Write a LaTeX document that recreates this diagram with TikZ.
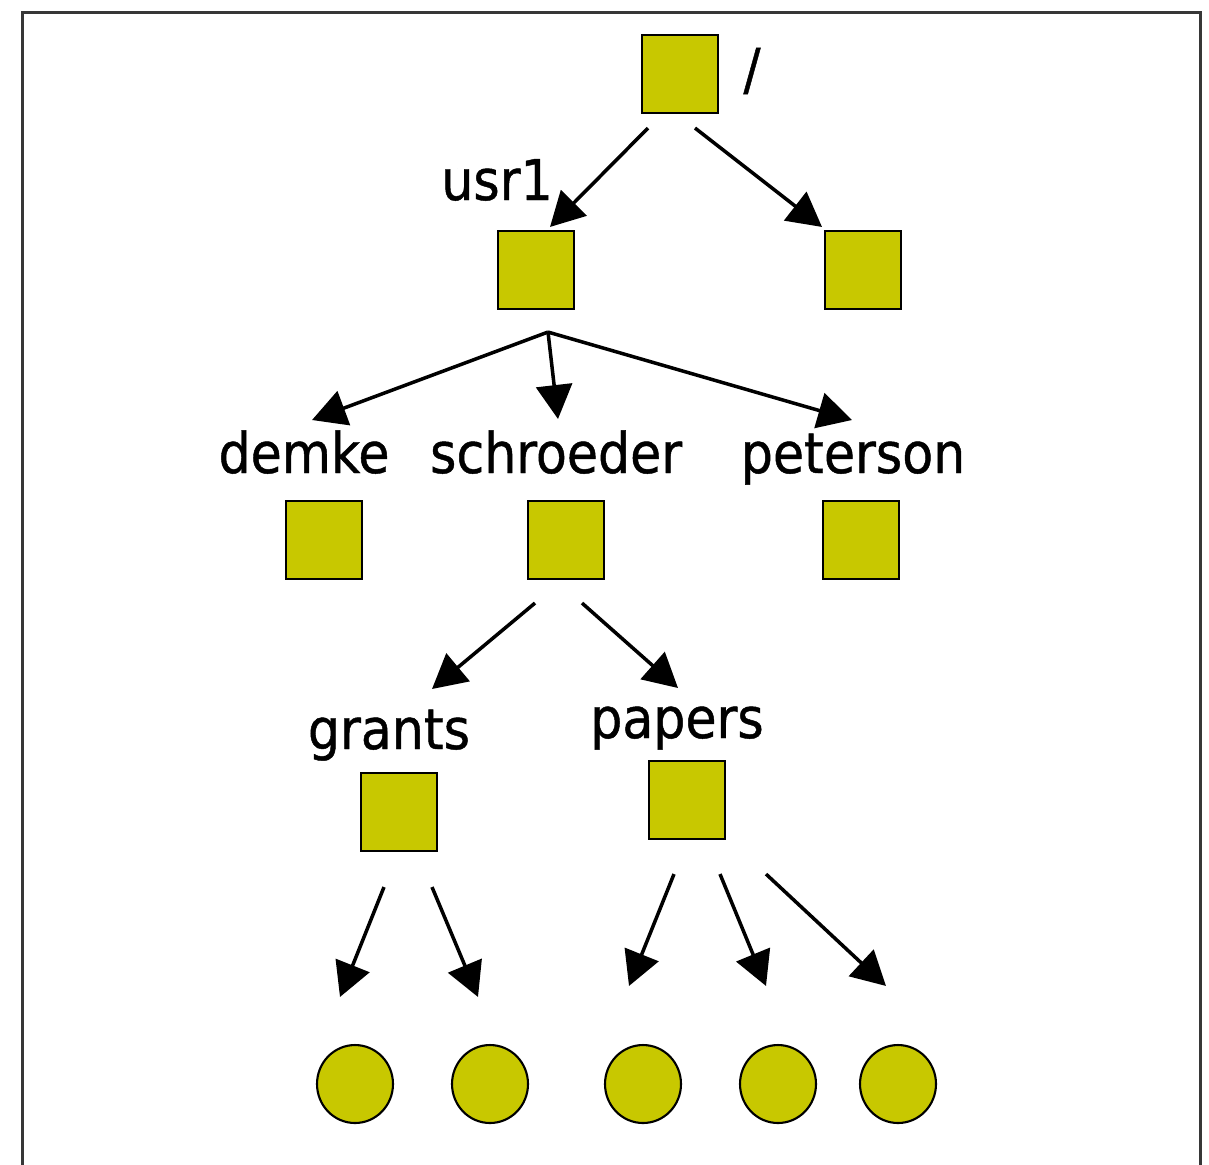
\documentclass[tikz,border=0pt]{standalone}
\usepackage{fontspec}
\setmainfont{DejaVu Sans Condensed}[FakeBold=0.8]
\usetikzlibrary{arrows.meta,calc,shapes.geometric}
\definecolor{dirfill}{RGB}{200,200,0}
\definecolor{framegray}{RGB}{55,55,55}

\begin{document}
\begin{tikzpicture}[x=0.02cm,y=-0.02cm,
dir/.style={draw=black,line width=1.2pt,fill=dirfill,minimum width=1.52cm,minimum height=1.56cm,inner sep=0pt},
leaf/.style={ellipse,draw=black,line width=1.2pt,fill=dirfill,minimum width=1.52cm,minimum height=1.56cm,inner sep=0pt},
lbl/.style={inner sep=0pt,font=\fontsize{32}{38}\selectfont},
arr/.style={line width=2pt,-{Triangle[length=0.68cm,width=0.72cm]}}]
\useasboundingbox (0,0) rectangle (1209,1164);
\draw [framegray,line width=0.06cm] (22,1180) -- (22,12) -- (1200,12) -- (1200,1180);
\node [dir] (root) at (680,74) {};
\node [dir] (usr) at (536,270) {};
\node [dir] (other) at (863,270) {};
\node [dir] (demke) at (324,540) {};
\node [dir] (schroeder) at (566,540) {};
\node [dir] (peterson) at (861,540) {};
\node [dir] (grants) at (399,812) {};
\node [dir] (papers) at (687,800) {};
\node [leaf] (f1) at (355,1084) {};
\node [leaf] (f2) at (490,1084) {};
\node [leaf] (f3) at (643,1084) {};
\node [leaf] (f4) at (778,1084) {};
\node [leaf] (f5) at (898,1084) {};
\node [lbl] (lroot) at (752,71) {/};
\node [lbl,anchor=base] (lusr) at (497,200) {usr1};
\node [lbl,anchor=base] (ldemke) at (304,473) {demke};
\node [lbl,anchor=base] (lschroeder) at (556,473) {schroeder};
\node [lbl,anchor=base] (lpeterson) at (853,473) {peterson};
\node [lbl,anchor=base] (lgrants) at (389,749) {grants};
\node [lbl,anchor=base] (lpapers) at (677,738) {papers};
\draw [arr] ($(root.south)+(-32,14)$) -- ($(usr.north)+(14,-3)$);
\draw [arr] ($(root.south)+(15,14)$) -- ($(other.north)+(-41,-3)$);
\draw [arr] ($(usr.south)+(12,22)$) -- ($(ldemke.base)+(8,-53)$);
\draw [arr] ($(usr.south)+(12,22)$) -- ($(lschroeder.base)+(2,-54)$);
\draw [arr] ($(usr.south)+(12,22)$) -- ($(lpeterson.base)+(-1,-53)$);
\draw [arr] ($(schroeder.south)+(-31,23)$) -- ($(lgrants.base)+(43,-60)$);
\draw [arr] ($(schroeder.south)+(16,23)$) -- ($(lpapers.base)+(1,-50)$);
\draw [arr] ($(grants.south)+(-15,35)$) -- ($(f1.north)+(-15,-47)$);
\draw [arr] ($(grants.south)+(33,35)$) -- ($(f2.north)+(-12,-47)$);
\draw [arr] ($(papers.south)+(-13,34)$) -- ($(f3.north)+(-14,-58)$);
\draw [arr] ($(papers.south)+(33,34)$) -- ($(f4.north)+(-12,-58)$);
\draw [arr] ($(papers.south)+(79,34)$) -- ($(f5.north)+(-12,-58)$);
\end{tikzpicture}
\end{document}
